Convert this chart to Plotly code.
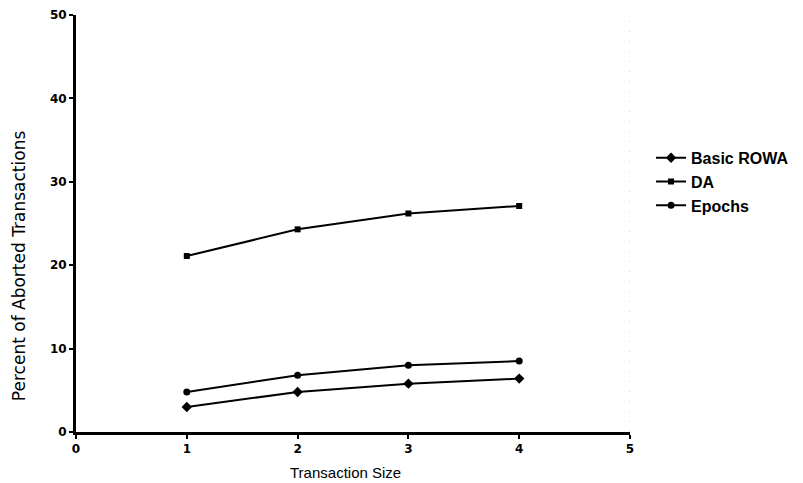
import plotly.graph_objects as go

# Transaction sizes and abort percentages per protocol
transaction_size = [1, 2, 3, 4]
basic_rowa = [3.0, 4.8, 5.8, 6.4]
da = [21.1, 24.3, 26.2, 27.1]
epochs = [4.8, 6.8, 8.0, 8.5]

x_ticks = [0, 1, 2, 3, 4, 5]
y_ticks = [0, 10, 20, 30, 40, 50]

series = [
    ("Basic ROWA", basic_rowa, "diamond", 8),
    ("DA", da, "square", 6),
    ("Epochs", epochs, "circle", 7),
]

fig = go.Figure()
for name, vals, sym, size in series:
    fig.add_trace(go.Scatter(
        x=transaction_size, y=vals, name=name, mode="lines+markers",
        line=dict(color="black", width=2),
        marker=dict(symbol=sym, size=size, color="black"),
    ))

# faint dotted line along the right edge of the plot area
fig.add_shape(type="line", x0=5, x1=5, y0=0, y1=50, xref="x", yref="y",
              line=dict(color="#aaaaaa", width=1, dash="1px,9px"), layer="below")

tick_font = dict(family="DejaVu Sans, sans-serif", size=12, weight="bold", color="black")

fig.update_layout(
    width=803, height=483,
    margin=dict(l=76, r=173, t=15, b=51, autoexpand=False),
    paper_bgcolor="white", plot_bgcolor="white",
    font=dict(family="Liberation Sans, Arial, sans-serif", color="black"),
    showlegend=True,
    legend=dict(x=1.038, y=0.60, xanchor="left", yanchor="middle",
                font=dict(size=16, weight="bold"), bgcolor="rgba(0,0,0,0)",
                itemwidth=30, tracegroupgap=0),
    xaxis=dict(
        range=[0, 5], tickvals=x_ticks,
        showgrid=False, zeroline=False,
        showline=True, linecolor="black", linewidth=3,
        ticks="outside", ticklen=4, tickwidth=2, tickcolor="black",
        tickfont=tick_font,
    ),
    yaxis=dict(
        range=[0, 50], tickvals=y_ticks,
        showgrid=False, zeroline=False,
        showline=True, linecolor="black", linewidth=3,
        ticks="outside", ticklen=4, tickwidth=2, tickcolor="black",
        tickfont=tick_font,
    ),
    annotations=[
        dict(text="Transaction Size", xref="paper", yref="paper",
             x=0.486, y=-0.098, xanchor="center", yanchor="middle",
             showarrow=False,
             font=dict(family="Liberation Sans, Arial, sans-serif", size=15)),
        dict(text="Percent of Aborted Transactions", xref="paper", yref="paper",
             x=-0.103, y=0.40, xanchor="center", yanchor="middle",
             textangle=-90, showarrow=False,
             font=dict(family="DejaVu Sans, sans-serif", size=17)),
    ],
)

fig.write_html("out.html")
